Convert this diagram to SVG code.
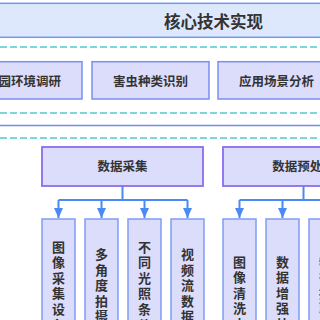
<svg xmlns="http://www.w3.org/2000/svg" width="320" height="320" viewBox="0 0 320 320">
<defs>
<style>
.t{font-family:"Noto Sans CJK SC","Noto Sans",sans-serif;fill:#333;font-weight:bold;text-anchor:middle}
.title{font-size:16.5px}
.lbl{font-size:12.5px}
.v{font-size:13px}
.head{fill:#dee8fd;stroke:#6e9cf4;stroke-width:1.5}
.dash{stroke:#7fd6d8;stroke-width:1.8;stroke-dasharray:7 3;fill:none}
.sol{stroke:#6e8cf2;stroke-width:1.5;fill:none}
.box{fill:#dcdcfb;stroke:#7b8ef2;stroke-width:1.5}
.grp{fill:#dcdcfb;stroke:#8a6cf0;stroke-width:1.8}
.sub{fill:#dcdcfb;stroke:#7f9cf5;stroke-width:1.5}
.c{stroke:#4a8af5;stroke-width:2;fill:none}
</style>
<marker id="ah" viewBox="0 0 10 9" refX="10" refY="4.5" markerWidth="5" markerHeight="4.5" markerUnits="strokeWidth" orient="auto">
<path d="M0,0 L10,4.5 L0,9 z" fill="#4a8af5"/>
</marker>
</defs>
<rect width="320" height="320" fill="#fff"/>
<g id="header">
<rect class="head" x="-120" y="3.3" width="560" height="34"/>
<text class="t title" x="213.5" y="28">核心技术实现</text>
</g>
<g id="separators">
<line class="dash" x1="0" y1="47" x2="330" y2="47"/>
<line class="dash" x1="0" y1="113" x2="330" y2="113"/>
<line class="sol" x1="0" y1="125.5" x2="330" y2="125.5"/>
<line class="dash" x1="0" y1="138" x2="330" y2="138"/>
</g>
<g id="n-env">
<rect class="box" x="-35" y="61.7" width="117" height="37.3"/>
<text class="t lbl" x="23.5" y="85.5">果园环境调研</text>
</g>
<g id="n-pest">
<rect class="box" x="92" y="61.7" width="117" height="37.3"/>
<text class="t lbl" x="150.5" y="85.5">害虫种类识别</text>
</g>
<g id="n-scene">
<rect class="box" x="218" y="61.7" width="117" height="37.3"/>
<text class="t lbl" x="276.5" y="85.5">应用场景分析</text>
</g>
<g id="connectors">
<path class="c" d="M122.5,186 V200 M58.5,200 H187.5"/>
<path class="c" d="M58.5,200 V218" marker-end="url(#ah)"/>
<path class="c" d="M101.5,200 V218" marker-end="url(#ah)"/>
<path class="c" d="M144.5,200 V218" marker-end="url(#ah)"/>
<path class="c" d="M187.5,200 V218" marker-end="url(#ah)"/>
<path class="c" d="M303.5,186 V200 M239.5,200 H368.5"/>
<path class="c" d="M239.5,200 V218" marker-end="url(#ah)"/>
<path class="c" d="M282.5,200 V218" marker-end="url(#ah)"/>
<path class="c" d="M325.5,200 V218" marker-end="url(#ah)"/>
<path class="c" d="M368.5,200 V218" marker-end="url(#ah)"/>
</g>
<g id="n-collect">
<rect class="grp" x="42" y="147" width="161" height="39"/>
<text class="t lbl" x="122.5" y="171">数据采集</text>
</g>
<g id="n-pre">
<rect class="grp" x="223" y="147" width="161" height="39"/>
<text class="t lbl" x="303.5" y="171">数据预处理</text>
</g>
<g id="n-c1">
<rect class="sub" x="42" y="219" width="33" height="135"/>
<text class="t v" x="58.5" y="251.5"><tspan x="58.5">图</tspan><tspan x="58.5" dy="15.6">像</tspan><tspan x="58.5" dy="15.6">采</tspan><tspan x="58.5" dy="15.6">集</tspan><tspan x="58.5" dy="15.6">设</tspan><tspan x="58.5" dy="15.6">备</tspan></text>
</g>
<g id="n-c2">
<rect class="sub" x="85" y="219" width="33" height="135"/>
<text class="t v" x="101.5" y="259"><tspan x="101.5">多</tspan><tspan x="101.5" dy="15.6">角</tspan><tspan x="101.5" dy="15.6">度</tspan><tspan x="101.5" dy="15.6">拍</tspan><tspan x="101.5" dy="15.6">摄</tspan></text>
</g>
<g id="n-c3">
<rect class="sub" x="128" y="219" width="33" height="135"/>
<text class="t v" x="144.5" y="251.5"><tspan x="144.5">不</tspan><tspan x="144.5" dy="15.6">同</tspan><tspan x="144.5" dy="15.6">光</tspan><tspan x="144.5" dy="15.6">照</tspan><tspan x="144.5" dy="15.6">条</tspan><tspan x="144.5" dy="15.6">件</tspan></text>
</g>
<g id="n-c4">
<rect class="sub" x="171" y="219" width="33" height="135"/>
<text class="t v" x="187.5" y="259"><tspan x="187.5">视</tspan><tspan x="187.5" dy="15.6">频</tspan><tspan x="187.5" dy="15.6">流</tspan><tspan x="187.5" dy="15.6">数</tspan><tspan x="187.5" dy="15.6">据</tspan></text>
</g>
<g id="n-p1">
<rect class="sub" x="223" y="219" width="33" height="135"/>
<text class="t v" x="239.5" y="266.5"><tspan x="239.5">图</tspan><tspan x="239.5" dy="15.6">像</tspan><tspan x="239.5" dy="15.6">清</tspan><tspan x="239.5" dy="15.6">洗</tspan><tspan x="239.5" dy="15.6">去</tspan></text>
</g>
<g id="n-p2">
<rect class="sub" x="266" y="219" width="33" height="135"/>
<text class="t v" x="282.5" y="266.5"><tspan x="282.5">数</tspan><tspan x="282.5" dy="15.6">据</tspan><tspan x="282.5" dy="15.6">增</tspan><tspan x="282.5" dy="15.6">强</tspan><tspan x="282.5" dy="15.6">处</tspan></text>
</g>
<g id="n-p3">
<rect class="sub" x="309" y="219" width="33" height="135"/>
<text class="t v" x="325.5" y="266.5"><tspan x="325.5">特</tspan><tspan x="325.5" dy="15.6">征</tspan><tspan x="325.5" dy="15.6">提</tspan><tspan x="325.5" dy="15.6">取</tspan></text>
</g>
</svg>
